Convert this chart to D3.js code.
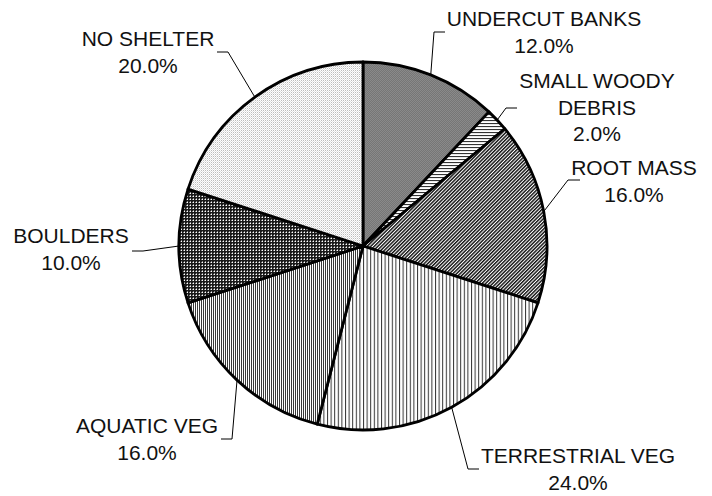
<!DOCTYPE html>
<html>
<head>
<meta charset="utf-8">
<script src="https://cdn.jsdelivr.net/npm/d3@7"></script>
<style>
  html, body { margin: 0; padding: 0; background: #fff; }
  svg { display: block; }
  text { font-family: "Liberation Sans", Arial, sans-serif; font-size: 21px; fill: #111; }
</style>
</head>
<body>
<div id="chart"></div>
<script>
// Shelter categories, clockwise from 12 o'clock, and their share (%)
const categories = ["UNDERCUT BANKS", "SMALL WOODY DEBRIS", "ROOT MASS", "TERRESTRIAL VEG", "AQUATIC VEG", "BOULDERS", "NO SHELTER"];
const shares = [12, 2, 16, 24, 16, 10, 20];
// How each category name wraps onto lines
const labelLines = [["UNDERCUT BANKS"], ["SMALL WOODY", "DEBRIS"], ["ROOT MASS"], ["TERRESTRIAL VEG"], ["AQUATIC VEG"], ["BOULDERS"], ["NO SHELTER"]];

const width = 712, height = 496;
const cx = 363, cy = 246, radius = 184;

// Label placement: text centre, first baseline, leader elbow and leader end
const labelLayout = [
  { x: 544, y: 26,  elbow: [434, 32],  end: [445, 32] },
  { x: 597, y: 88,  elbow: [506, 108], end: [517, 108] },
  { x: 634, y: 175, elbow: [568, 180], end: [580, 180] },
  { x: 578, y: 463, elbow: [468, 469], end: [479, 469] },
  { x: 147, y: 433, elbow: [232, 439], end: [221, 439] },
  { x: 71,  y: 243, elbow: [143, 251], end: [132, 251] },
  { x: 148, y: 46,  elbow: [228, 52],  end: [217, 52] }
];
const lineGap = 26.5;

const svg = d3.select("#chart").append("svg")
  .attr("width", width).attr("height", height);

// Monochrome fill patterns, one per slice
const defs = svg.append("defs");
function pattern(id, w, h, build, transform) {
  const p = defs.append("pattern").attr("id", id)
    .attr("patternUnits", "userSpaceOnUse").attr("width", w).attr("height", h);
  if (transform) p.attr("patternTransform", transform);
  build(p);
}
pattern("p0", 2, 2, p => {
  p.append("rect").attr("width", 2).attr("height", 2).attr("fill", "#8a8a8a");
  p.append("rect").attr("width", 1).attr("height", 1).attr("fill", "#767676");
  p.append("rect").attr("x", 1).attr("y", 1).attr("width", 1).attr("height", 1).attr("fill", "#767676");
});
pattern("p1", 3, 3, p => {
  p.append("rect").attr("width", 3).attr("height", 3).attr("fill", "#fff");
  p.append("rect").attr("width", 3).attr("height", 1.1).attr("fill", "#333");
});
pattern("p2", 2.5, 2.5, p => {
  p.append("rect").attr("width", 2.5).attr("height", 2.5).attr("fill", "#fff");
  p.append("rect").attr("width", 1.45).attr("height", 2.5).attr("fill", "#111");
}, "rotate(45)");
pattern("p3", 3.6, 4, p => {
  p.append("rect").attr("width", 3.6).attr("height", 4).attr("fill", "#fff");
  p.append("rect").attr("width", 1).attr("height", 4).attr("fill", "#333");
});
pattern("p4", 2, 2, p => {
  p.append("rect").attr("width", 2).attr("height", 2).attr("fill", "#fff");
  p.append("rect").attr("width", 1).attr("height", 2).attr("fill", "#3a3a3a");
});
pattern("p5", 3, 3, p => {
  p.append("rect").attr("width", 3).attr("height", 3).attr("fill", "#1a1a1a");
  p.append("rect").attr("x", 1).attr("y", 1).attr("width", 1).attr("height", 1).attr("fill", "#fff");
  p.append("rect").attr("x", 1).attr("y", 0).attr("width", 1).attr("height", 1).attr("fill", "#888");
  p.append("rect").attr("x", 0).attr("y", 1).attr("width", 1).attr("height", 1).attr("fill", "#888");
});
pattern("p6", 2, 2, p => {
  p.append("rect").attr("width", 2).attr("height", 2).attr("fill", "#fff");
  p.append("rect").attr("width", 1).attr("height", 1).attr("fill", "#bdbdbd");
  p.append("rect").attr("x", 1).attr("y", 1).attr("width", 1).attr("height", 1).attr("fill", "#e2e2e2");
});

const data = categories.map((c, i) => ({ category: c, share: shares[i], lines: labelLines[i], layout: labelLayout[i], fill: `url(#p${i})` }));

const pie = d3.pie().value(d => d.share).sort(null);
const arc = d3.arc().innerRadius(0).outerRadius(radius);
const arcs = pie(data);

const g = svg.append("g").attr("transform", `translate(${cx},${cy})`);
g.selectAll("path.slice").data(arcs).join("path")
  .attr("class", "slice")
  .attr("d", arc)
  .attr("fill", d => d.data.fill)
  .attr("stroke", "#000")
  .attr("stroke-width", 2.8)
  .attr("stroke-linejoin", "round");

// Leader lines from the middle of each slice's rim to its label
const fmt = d3.format(".1f");
arcs.forEach(a => {
  const mid = (a.startAngle + a.endAngle) / 2;
  const sx = cx + radius * Math.sin(mid), sy = cy - radius * Math.cos(mid);
  const L = a.data.layout;
  svg.append("polyline")
    .attr("points", [[sx, sy], L.elbow, L.end].map(p => p.join(",")).join(" "))
    .attr("fill", "none").attr("stroke", "#000").attr("stroke-width", 1);

  const t = svg.append("text").attr("text-anchor", "middle");
  const lines = a.data.lines.concat([fmt(a.data.share) + "%"]);
  lines.forEach((s, k) => {
    t.append("tspan").attr("x", L.x).attr("y", L.y + k * lineGap).text(s);
  });
});
</script>
</body>
</html>
